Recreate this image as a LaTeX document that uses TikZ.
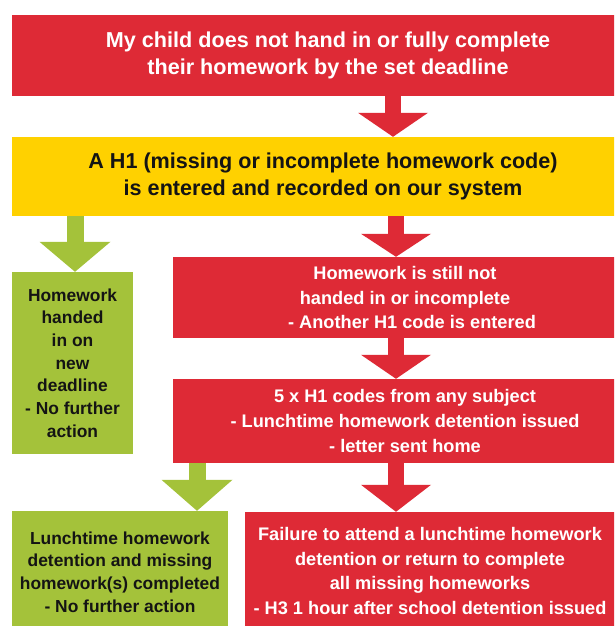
\documentclass[tikz,border=0pt]{standalone}
\usepackage{fontspec}
\setmainfont{Liberation Sans}
\usetikzlibrary{arrows.meta}
\definecolor{boxred}{RGB}{222,42,54}
\definecolor{boxyellow}{RGB}{255,209,0}
\definecolor{boxgreen}{RGB}{164,194,58}
\definecolor{darktext}{RGB}{20,20,20}
\tikzset{
  box/.style={rectangle, inner sep=0pt, align=center, font=\bfseries},
  redbox/.style={box, fill=boxred, text=white},
  yellowbox/.style={box, fill=boxyellow, text=darktext},
  greenbox/.style={box, fill=boxgreen, text=darktext},
  bigtext/.style={font=\bfseries\fontsize{21.6}{26.5}\selectfont},
  redtext/.style={font=\bfseries\fontsize{18.2}{24.8}\selectfont},
  greentext/.style={font=\bfseries\fontsize{17.4}{22.7}\selectfont},
  redarrow/.style={boxred, line width=16pt,
    -{Triangle[width=70pt,length=#1,line width=0pt]}},
  greenarrow/.style={boxgreen, line width=17pt,
    -{Triangle[width=71pt,length=#1,line width=0pt]}},
}
\begin{document}
\begin{tikzpicture}[x=1pt,y=-1pt]
\useasboundingbox (0,0) rectangle (614,626);
\clip (0,0) rectangle (614,626);
\fill[white] (0,0) rectangle (614,626);

\node[redbox, bigtext, minimum width=632pt, minimum height=81pt] (top) at (328,55.5)
  {My child does not hand in or fully complete\\their homework by the set deadline};
\node[yellowbox, bigtext, minimum width=622pt, minimum height=79pt] (code) at (323,176.5)
  {A H1 (missing or incomplete homework code)\\is entered and recorded on our system};
\node[greenbox, greentext, minimum width=121pt, minimum height=182pt] (ok1) at (72.5,363)
  {Homework\\handed\\in on\\new\\deadline\\- No further\\action};
\node[redbox, redtext, minimum width=464pt, minimum height=81pt] (again) at (405,297.5)
  {Homework is still not\\handed in or incomplete\\\hspace*{14pt}- Another H1 code is entered};
\node[redbox, redtext, minimum width=464pt, minimum height=84pt] (five) at (405,421)
  {5 x H1 codes from any subject\\- Lunchtime homework detention issued\\- letter sent home};
\node[greenbox, greentext, minimum width=216pt, minimum height=122pt] (ok2) at (120,572)
  {Lunchtime homework\\detention and missing\\homework(s) completed\\- No further action};
\node[redbox, redtext, minimum width=370pt, minimum height=118pt] (fail) at (430,571)
  {Failure to attend a lunchtime homework\\detention or return to complete\\all missing homeworks\\- H3 1 hour after school detention issued};

\coordinate (xa) at (393,0);
\coordinate (xb) at (396,0);
\coordinate (xg1) at (75,0);
\coordinate (xg2) at (197,0);

\draw[redarrow=24pt] (top.south -| xa) -- (code.north -| xa);
\draw[greenarrow=30pt] (code.south -| xg1) -- (ok1.north -| xg1);
\draw[redarrow=23pt] (code.south -| xb) -- (again.north -| xb);
\draw[redarrow=24pt] (again.south -| xb) -- (five.north -| xb);
\draw[greenarrow=31pt] (five.south -| xg2) -- (ok2.north -| xg2);
\draw[redarrow=27pt] (five.south -| xb) -- (fail.north -| xb);
\end{tikzpicture}
\end{document}
